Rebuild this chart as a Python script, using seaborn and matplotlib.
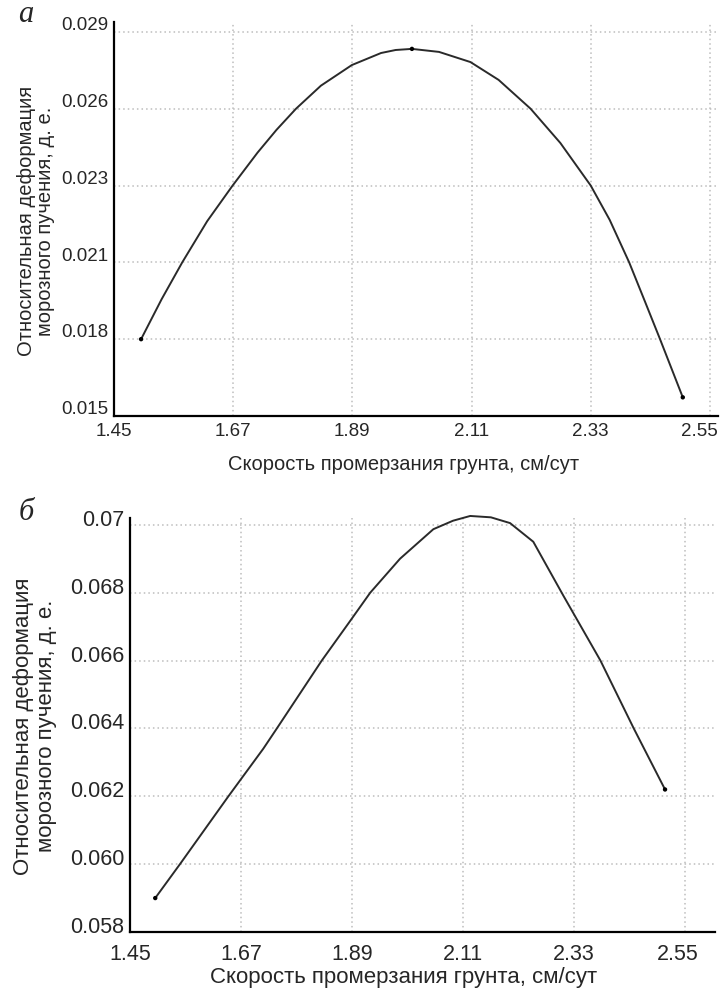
import matplotlib
matplotlib.use("Agg")
import matplotlib.pyplot as plt
import matplotlib.transforms as mtransforms
import seaborn as sns
import pandas as pd

# ---- data: panel а ----
speed_a = [1.50, 1.538, 1.576, 1.622, 1.669, 1.715, 1.75, 1.786, 1.832, 1.889, 1.943, 1.97,
           2.00, 2.05, 2.108, 2.16, 2.219, 2.274, 2.33, 2.365, 2.401, 2.43, 2.458, 2.50]
deform_a = [0.0178, 0.01926, 0.0206, 0.0221, 0.0234, 0.0246, 0.02543, 0.0262, 0.02704, 0.02779,
            0.02823, 0.02834, 0.02838, 0.02827, 0.0279, 0.02725, 0.0262, 0.02495, 0.0234, 0.02215,
            0.0206, 0.01918, 0.0178, 0.01568]
marked_a = [0, 12, 23]
yticks_a = [0.015, 0.0178, 0.0206, 0.0234, 0.0262, 0.029]
ylabels_a = ["0.015", "0.018", "0.021", "0.023", "0.026", "0.029"]

# ---- data: panel б ----
speed_b = [1.50, 1.549, 1.645, 1.714, 1.741, 1.83, 1.883, 1.926, 1.985, 2.051, 2.09,
           2.124, 2.165, 2.203, 2.249, 2.309, 2.382, 2.448, 2.51]
deform_b = [0.0590, 0.0600, 0.0620, 0.0634, 0.0640, 0.0660, 0.0671, 0.0680, 0.0690, 0.06987, 0.07012,
            0.07026, 0.07022, 0.07005, 0.0695, 0.0679, 0.0660, 0.0640, 0.0622]
marked_b = [0, 18]
yticks_b = [0.058, 0.060, 0.062, 0.064, 0.066, 0.068, 0.070]
ylabels_b = ["0.058", "0.060", "0.062", "0.064", "0.066", "0.068", "0.07"]

xticks = [1.45, 1.67, 1.89, 2.11, 2.33, 2.55]
xlabels = ["1.45", "1.67", "1.89", "2.11", "2.33", "2.55"]

ylabel_text = "Относительная деформация\nморозного пучения, д. е."
xlabel_text = "Скорость промерзания грунта, см/сут"

sns.set_style("white")
plt.rcParams["font.family"] = ["Liberation Sans", "DejaVu Sans"]

W, H = 724, 991
fig = plt.figure(figsize=(W / 100, H / 100), dpi=100)


def frac(l, t, r, b):
    return [l / W, 1 - b / H, (r - l) / W, (b - t) / H]


def panel(rect, xs, ys, marks, yt, yl, ylim, xlim, tick_fs, lab_fs, xpad, ydy,
          ylab_x, xlab_y, letter, letter_xy, last_dx, lsp):
    ax = fig.add_axes(frac(*rect))
    df = pd.DataFrame({"x": xs, "y": ys})
    sns.lineplot(data=df, x="x", y="y", ax=ax, color="#2a2a2a", linewidth=1.4,
                 estimator=None, sort=False)
    for ln in ax.get_lines():
        ln.set_clip_on(False)
        ln.set_solid_joinstyle("round")
    mdf = df.iloc[marks]
    sns.scatterplot(data=mdf, x="x", y="y", ax=ax, color="black", s=10,
                    edgecolor="none", zorder=5, clip_on=False)
    ax.set_xlim(*xlim)
    ax.set_ylim(*ylim)
    ax.set_xticks(xticks)
    ax.set_xticklabels(xlabels, fontsize=tick_fs)
    ax.set_yticks(yt)
    ax.set_yticklabels(yl, fontsize=tick_fs)
    ax.tick_params(axis="both", length=0)
    ax.tick_params(axis="x", pad=xpad)
    ax.tick_params(axis="y", pad=4)
    off = mtransforms.ScaledTranslation(0, ydy / 72, fig.dpi_scale_trans)
    for lab in ax.get_yticklabels():
        lab.set_transform(lab.get_transform() + off)
    xl = ax.get_xticklabels()[-1]
    xl.set_transform(xl.get_transform() +
                     mtransforms.ScaledTranslation(last_dx / 100, 0, fig.dpi_scale_trans))
    ax.grid(True, linestyle=(0, (1, 2)), color="#bdbdbd", linewidth=1.1)
    for s in ["top", "right"]:
        ax.spines[s].set_visible(False)
    for s in ["left", "bottom"]:
        ax.spines[s].set_color("black")
        ax.spines[s].set_linewidth(1.6)
    ax.set_xlabel("")
    ax.set_ylabel("")
    fig.text(ylab_x[0] / W, 1 - ylab_x[1] / H, ylabel_text, rotation=90,
             ha="center", va="center", fontsize=lab_fs, linespacing=lsp,
             multialignment="center")
    fig.text(xlab_y[0] / W, 1 - xlab_y[1] / H, xlabel_text, ha="center",
             va="center", fontsize=lab_fs)
    fig.text(letter_xy[0] / W, 1 - letter_xy[1] / H, letter, ha="center",
             va="center", fontsize=22, style="italic",
             family=["Liberation Serif", "DejaVu Serif"])
    return ax


panel((114, 22, 718, 416), speed_a, deform_a, marked_a, yticks_a, ylabels_a,
      (0.015, 0.02936), (1.45, 2.565), 13.5, 14.5, 5, 6,
      (36, 221), (404, 465), "а", (26, 15), -10, 1.05)

panel((130, 518, 715, 932), speed_b, deform_b, marked_b, yticks_b, ylabels_b,
      (0.058, 0.0702), (1.45, 2.609), 15.5, 16, 9, 5,
      (35, 726), (404, 978), "б", (26, 512), -7, 1.15)

fig.savefig("out.png", dpi=100, facecolor="white")
